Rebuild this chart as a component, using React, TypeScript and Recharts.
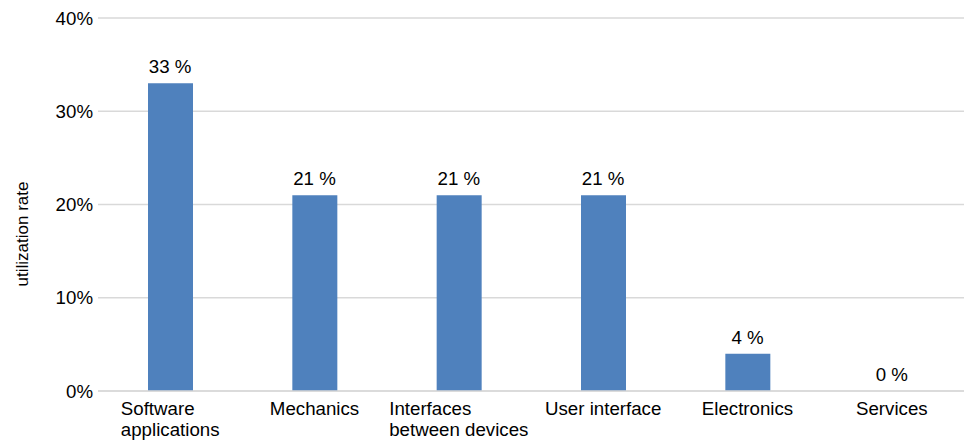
import React from 'react';
import { BarChart, Bar, XAxis, YAxis, CartesianGrid, Label, ReferenceDot } from 'recharts';

const categories = ['Software\napplications', 'Mechanics', 'Interfaces\nbetween devices', 'User interface', 'Electronics', 'Services'];
const utilization = [33, 21, 21, 21, 4, 0];
const yTicks = [0, 10, 20, 30, 40];

const FONT = '"Liberation Sans", Arial, sans-serif';
const FONT_SIZE = 18.7;

const data = categories.map((name, i) => ({ name, value: utilization[i] }));

let measureCtx: CanvasRenderingContext2D | null = null;
const textWidth = (s: string) => {
    if (!measureCtx) {
        measureCtx = document.createElement('canvas').getContext('2d');
    }
    if (!measureCtx) return s.length * FONT_SIZE * 0.5;
    measureCtx.font = `${FONT_SIZE}px "Liberation Sans"`;
    return measureCtx.measureText(s).width;
};

// multi-line category label: lines left aligned, block centred under the bar
const CategoryTick = (props: any) => {
    const { x, y, payload } = props;
    const lines: string[] = String(payload.value).split('\n');
    const w = Math.max(...lines.map(textWidth));
    const left = x - w / 2;
    return (
        <text x={left} y={y} fill="#000" fontSize={FONT_SIZE} fontFamily={FONT} textAnchor="start">
            {lines.map((line, i) => (
                <tspan key={i} x={left} dy={i === 0 ? 16 : 21}>{line}</tspan>
            ))}
        </text>
    );
};

// value label sitting above the top of the bar (works for 0 as well)
const ValueLabel = (props: any) => {
    const { viewBox, value } = props;
    return (
        <text x={viewBox.x} y={viewBox.y - 10} textAnchor="middle" fill="#000" fontSize={FONT_SIZE} fontFamily={FONT}>
            {`${value} %`}
        </text>
    );
};

const AxisTitle = () => (
    <text
        x={28}
        y={234}
        transform="rotate(-90 28 234)"
        textAnchor="middle"
        fill="#000"
        fontSize={17}
        fontFamily={FONT}
    >
        utilization rate
    </text>
);

export default function App() {
    return (
        <div style={{ position: 'absolute', left: 0, top: 0, background: '#fff' }}>
            <BarChart
                width={964}
                height={441}
                data={data}
                margin={{ top: 18, right: 0, bottom: 0, left: 0 }}
                barCategoryGap={0}
            >
                <CartesianGrid vertical={false} stroke="#d9d9d9" strokeWidth={1.5} />
                <XAxis
                    dataKey="name"
                    height={50}
                    tickLine={false}
                    axisLine={{ stroke: '#d9d9d9', strokeWidth: 1.5 }}
                    interval={0}
                    tick={<CategoryTick />}
                />
                <YAxis
                    width={98}
                    domain={[0, 40]}
                    ticks={yTicks}
                    tickFormatter={(v: number) => `${v}%`}
                    tickLine={false}
                    axisLine={false}
                    tickSize={0}
                    tickMargin={5}
                    tick={{ fill: '#000', fontSize: FONT_SIZE, fontFamily: FONT }}
                >
                    <Label content={<AxisTitle />} />
                </YAxis>
                <Bar dataKey="value" fill="#4f81bd" barSize={45} isAnimationActive={false} />
                {data.map(d => (
                    <ReferenceDot
                        key={d.name}
                        x={d.name}
                        y={d.value}
                        r={0}
                        fill="none"
                        stroke="none"
                        label={<ValueLabel value={d.value} />}
                    />
                ))}
            </BarChart>
        </div>
    );
}
